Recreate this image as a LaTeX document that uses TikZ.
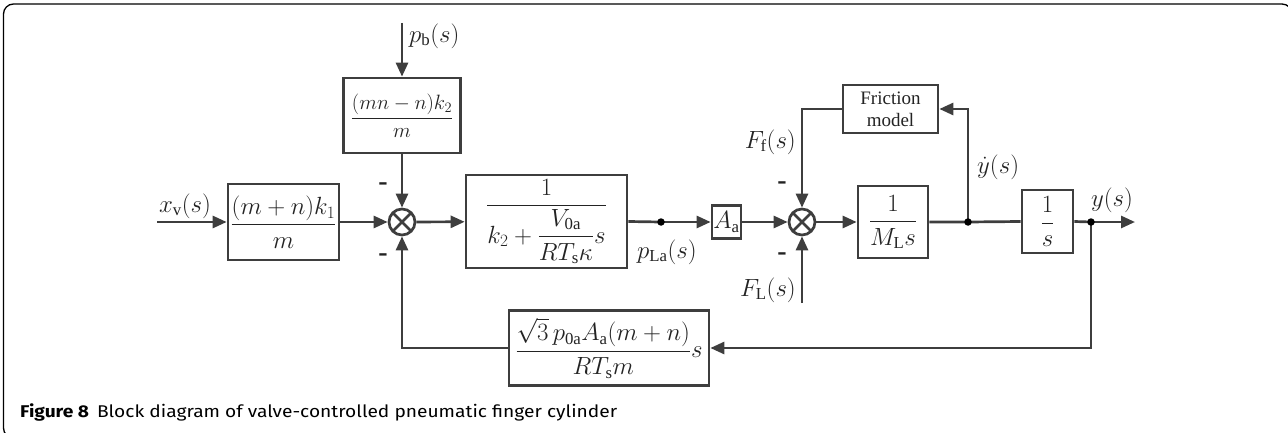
\documentclass[tikz,border=0pt]{standalone}
\usepackage{amsmath}
\usepackage{fontspec}
\setmainfont{Liberation Serif}
\newfontfamily\capfont{Fira Sans}
\usetikzlibrary{arrows.meta,calc}
\definecolor{dg}{RGB}{62,62,62}
\definecolor{tx}{RGB}{35,35,35}
\begin{document}
\begin{tikzpicture}[x=1pt,y=-1pt,
  every node/.style={text=tx},
  blk/.style={draw=dg, line width=2.7pt, inner sep=0pt, font=\fontsize{24}{28}\selectfont},
  sumnode/.style={circle, draw=dg, line width=2.7pt, minimum size=26pt, inner sep=0pt,
    path picture={\draw[dg,line width=2.5pt] (path picture bounding box.north west)--(path picture bounding box.south east)
      (path picture bounding box.north east)--(path picture bounding box.south west);}},
  wire/.style={draw=dg, line width=2.7pt},
  arr/.style={wire, -{Triangle[length=14pt,width=12pt]}},
  lbl/.style={font=\fontsize{24}{28}\selectfont, inner sep=0pt},
  sgn/.style={font=\fontsize{28}{30}\selectfont\bfseries, inner sep=0pt},
  jdot/.style={circle, fill=black, minimum size=7.5pt, inner sep=0pt}
]
\useasboundingbox (0,0) rectangle (1288,433);
% frame
\draw[black, line width=1.3pt, rounded corners=10pt] (3.5,4) rectangle (1292,438);

% blocks
\node[blk, minimum width=111pt, minimum height=76pt] (b1) at (283.5,222) {$\dfrac{(m+n)k_1}{m}$};
\node[blk, font=\fontsize{22}{26}\selectfont, minimum width=117pt, minimum height=75pt] (b2) at (402,115.5) {$\dfrac{(mn-n)k_2}{m}$};
\node[sumnode] (s1) at (402,222) {};
\node[blk, minimum width=161pt, minimum height=93pt] (b3) at (546.5,221.5) {$\dfrac{1}{k_2+\dfrac{V_{\mathrm{0a}}}{RT_{\mathrm{s}}\kappa}s}$};
\node[blk, minimum width=29pt, minimum height=33pt] (aa) at (726.5,222) {$A_{\mathrm{a}}$};
\node[sumnode] (s2) at (802,222) {};
\node[blk, font=\fontsize{19}{22}\selectfont, align=center, minimum width=95pt, minimum height=48pt] (fr) at (890.5,109) {Friction\\model};
\node[blk, minimum width=70pt, minimum height=72pt] (b4) at (893,222) {$\dfrac{1}{M_{\mathrm{L}}s}$};
\node[blk, minimum width=51pt, minimum height=63pt] (b5) at (1047.5,221.5) {$\dfrac{1}{s}$};
\node[blk, minimum width=200pt, minimum height=75pt] (b6) at (609,348) {$\dfrac{\sqrt{3}\,p_{\mathrm{0a}}A_{\mathrm{a}}(m+n)}{RT_{\mathrm{s}}m}s$};

% coordinates
\coordinate (xin) at (157,222);
\coordinate (pbin) at (402,23);
\coordinate (d1) at (661,222);
\coordinate (d2) at (968,222);
\coordinate (d3) at (1091,222);
\coordinate (yout) at (1135,222);
\coordinate (flin) at (802,303);

% connectors
\draw[arr] (xin) -- (b1);
\draw[arr] (b1) -- (s1);
\draw[arr] (pbin) -- (b2);
\draw[arr] (b2) -- (s1);
\draw[arr] (s1) -- (b3);
\draw[wire] (b3.east) -- (d1);
\draw[arr] (d1) -- (aa);
\draw[arr] (aa) -- (s2);
\draw[arr] (s2) -- (b4);
\draw[wire] (b4.east) -- (d2) -- (b5.west);
\draw[wire] (b5.east) -- (d3);
\draw[arr] (d3) -- (yout);
\draw[arr] (d2) |- (fr.east);
\draw[arr] (fr.west) -| (s2.north);
\draw[arr] (flin) -- (s2.south);
\draw[arr] (d3) |- (b6.east);
\draw[arr] (b6.west) -| (s1.south);

% junction dots
\node[jdot] (dot1) at (d1) {};
\node[jdot] (dot2) at (d2) {};
\node[jdot] (dot3) at (d3) {};

% labels
\node[lbl] (lxv) at (185,206) {$x_{\mathrm{v}}(s)$};
\node[lbl,anchor=west] (lpb) at (409,36) {$p_{\mathrm{b}}(s)$};
\node[lbl] (lpla) at (667,252) {$p_{\mathrm{La}}(s)$};
\node[lbl,anchor=east] (lff) at (796,142) {$F_{\mathrm{f}}(s)$};
\node[lbl,anchor=east] (lfl) at (796,290) {$F_{\mathrm{L}}(s)$};
\node[lbl,anchor=west] (lyd) at (977,167) {$\dot{y}(s)$};
\node[lbl] (lys) at (1112,200) {$y(s)$};

% signs
\node[sgn] (m1) at (383,187) {-};
\node[sgn] (m2) at (383,258) {-};
\node[sgn] (m3) at (782,186) {-};
\node[sgn] (m4) at (782,257) {-};

% caption
\node[anchor=base west, inner sep=0pt, text=black] (cap) at (20,417)
  {\resizebox{597pt}{\height}{\capfont\fontsize{17}{20}\selectfont\textbf{Figure 8}\hspace{7pt}Block diagram of valve-controlled pneumatic finger cylinder}};
\end{tikzpicture}
\end{document}
